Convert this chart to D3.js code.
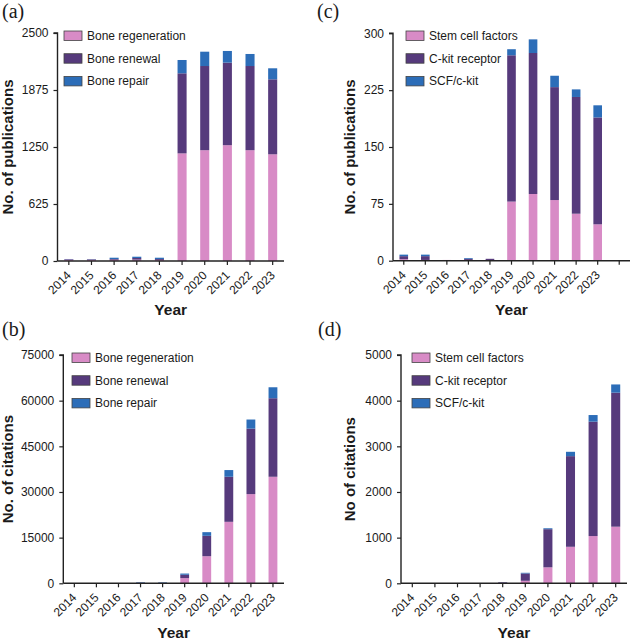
<!DOCTYPE html>
<html>
<head>
<meta charset="utf-8">
<script src="https://cdn.jsdelivr.net/npm/d3@7"></script>
<style>
  html, body { margin: 0; padding: 0; background: #fff; }
  svg { display: block; }
  text { font-family: "Liberation Sans", Arial, sans-serif; fill: #1a1a1a; }
</style>
</head>
<body>
<svg id="chart" width="630" height="642"></svg>
<script>
// ---------- DATA ----------
const years = ["2014","2015","2016","2017","2018","2019","2020","2021","2022","2023"];

const boneSeries = ["Bone regeneration", "Bone renewal", "Bone repair"];
const scfSeries  = ["Stem cell factors", "C-kit receptor", "SCF/c-kit"];

// (a) publications – bone
const pubBoneRegeneration = [14, 12, 14, 15, 12, 1180, 1215, 1270, 1215, 1170];
const pubBoneRenewal      = [6, 6, 8, 18, 10, 878, 923, 905, 923, 822];
const pubBoneRepair       = [2, 2, 14, 14, 14, 146, 157, 128, 132, 121];

// (b) citations – bone
const citBoneRegeneration = [0, 0, 0, 120, 100, 1700, 8900, 20200, 29300, 35000];
const citBoneRenewal      = [0, 0, 0, 80, 60, 1100, 6700, 14800, 21500, 25800];
const citBoneRepair       = [0, 0, 0, 150, 150, 400, 1200, 2200, 3000, 3600];

// (c) publications – SCF / c-kit
const pubStemCell = [2, 1, 1, 1, 0.5, 78, 88, 80, 62, 48];
const pubCkit     = [4, 5, 0, 1.5, 2, 193, 186, 149, 154, 141];
const pubScfCkit  = [2, 2, 0, 1, 0, 8, 18, 15, 10, 16];

// (d) citations – SCF / c-kit
const citStemCell = [0, 0, 0, 0, 5, 55, 350, 800, 1035, 1240];
const citCkit     = [0, 0, 0, 0, 15, 160, 835, 1985, 2505, 2935];
const citScfCkit  = [0, 0, 0, 0, 2, 15, 20, 95, 145, 180];

// tick labels
const ticksA = [0, 625, 1250, 1875, 2500];
const ticksB = [0, 15000, 30000, 45000, 60000, 75000];
const ticksC = [0, 75, 150, 225, 300];
const ticksD = [0, 1000, 2000, 3000, 4000, 5000];

const seriesColors = ["#d88bc6", "#563a7c", "#2c6db8"];

// ---------- DRAW ----------
const svg = d3.select("#chart");

function drawPanel(cfg) {
  const g = svg.append("g");
  const domain = cfg.extraSlot ? years.concat(["__blank"]) : years;
  const x = d3.scaleBand().domain(domain)
    .range([cfg.left, cfg.right]).paddingInner(0.6).paddingOuter(0.3);
  const y = d3.scaleLinear().domain([0, cfg.ticks[cfg.ticks.length - 1]])
    .range([cfg.bottom, cfg.top]);

  const rows = years.map((yr, i) => {
    const r = { year: yr };
    cfg.series.forEach((s, k) => r[s] = cfg.values[k][i]);
    return r;
  });
  const stacked = d3.stack().keys(cfg.series)(rows);

  stacked.forEach((layer, k) => {
    g.append("g").attr("fill", seriesColors[k])
      .selectAll("rect").data(layer).join("rect")
      .attr("x", d => x(d.data.year))
      .attr("width", x.bandwidth())
      .attr("y", d => y(d[1]))
      .attr("height", d => Math.max(0, y(d[0]) - y(d[1])));
  });

  // y axis
  const yAxis = d3.axisLeft(y).tickValues(cfg.ticks).tickSize(4).tickPadding(5)
    .tickFormat(d3.format("d"));
  const ya = g.append("g").attr("transform", `translate(${cfg.left},0)`).call(yAxis);
  ya.select(".domain").attr("stroke", "#222").attr("stroke-width", 1.4)
    .attr("d", `M-4,${cfg.top}H0V${cfg.bottom}`);
  ya.selectAll(".tick line").attr("stroke", "#222").attr("stroke-width", 1.2);
  ya.selectAll(".tick text").style("font-size", "12px")
    .style("font-family", '"Liberation Sans", Arial, sans-serif').attr("fill", "#1a1a1a");

  // x axis
  const xAxis = d3.axisBottom(x).tickSize(4).tickSizeOuter(0)
    .tickFormat(d => d === "__blank" ? "" : d);
  const xa = g.append("g").attr("transform", `translate(0,${cfg.bottom})`).call(xAxis);
  xa.select(".domain").attr("stroke", "#222").attr("stroke-width", 1.4)
    .attr("d", `M${cfg.left},0H${cfg.right}`);
  xa.selectAll(".tick line").attr("stroke", "#222").attr("stroke-width", 1.2);
  xa.selectAll(".tick text")
    .style("font-size", "12px")
    .style("font-family", '"Liberation Sans", Arial, sans-serif')
    .attr("fill", "#1a1a1a")
    .attr("text-anchor", "end")
    .attr("dy", null)
    .attr("x", 3).attr("y", 15)
    .attr("transform", "rotate(-45 3 15)");

  // y title
  g.append("text")
    .attr("transform", `translate(${cfg.yTitleX},${(cfg.top + cfg.bottom) / 2}) rotate(-90)`)
    .attr("text-anchor", "middle")
    .style("font-size", "15px").style("font-weight", "bold")
    .text(cfg.yTitle);

  // x title
  g.append("text")
    .attr("x", (cfg.left + cfg.right) / 2 + (cfg.xTitleShift || 0))
    .attr("y", cfg.xTitleY)
    .attr("text-anchor", "middle")
    .style("font-size", "15.5px").style("font-weight", "bold")
    .text("Year");

  // panel letter
  g.append("text")
    .attr("x", cfg.labelX).attr("y", cfg.labelY)
    .style("font-family", '"Liberation Serif", "Times New Roman", serif')
    .style("font-size", "20px")
    .text(cfg.label);

  // legend
  const leg = g.append("g");
  cfg.series.forEach((s, k) => {
    const yy = cfg.legY + k * 22.7;
    leg.append("rect")
      .attr("x", cfg.legX).attr("y", yy)
      .attr("width", 18).attr("height", 9.5)
      .attr("fill", seriesColors[k])
      .attr("stroke", "#444").attr("stroke-width", 0.8);
    leg.append("text")
      .attr("x", cfg.legX + 23).attr("y", yy + 9)
      .style("font-size", "12px")
      .text(s);
  });
}

drawPanel({
  label: "(a)", labelX: 2, labelY: 18,
  left: 57.5, right: 284, top: 33, bottom: 261,
  ticks: ticksA, series: boneSeries,
  values: [pubBoneRegeneration, pubBoneRenewal, pubBoneRepair],
  yTitle: "No. of publications", yTitleX: 13, xTitleY: 315,
  legX: 64, legY: 31
});

drawPanel({
  label: "(c)", labelX: 317, labelY: 18,
  left: 393, right: 630, top: 33.3, bottom: 260.7, extraSlot: true,
  ticks: ticksC, series: scfSeries,
  values: [pubStemCell, pubCkit, pubScfCkit],
  yTitle: "No. of publications", yTitleX: 355, xTitleY: 315, xTitleShift: 0,
  legX: 406, legY: 31
});

drawPanel({
  label: "(b)", labelX: 2, labelY: 336,
  left: 63.3, right: 284, top: 355, bottom: 583.3,
  ticks: ticksB, series: boneSeries,
  values: [citBoneRegeneration, citBoneRenewal, citBoneRepair],
  yTitle: "No. of citations", yTitleX: 13, xTitleY: 638,
  legX: 72, legY: 353
});

drawPanel({
  label: "(d)", labelX: 318, labelY: 336,
  left: 401, right: 627, top: 355, bottom: 583.3,
  ticks: ticksD, series: scfSeries,
  values: [citStemCell, citCkit, citScfCkit],
  yTitle: "No of citations", yTitleX: 355, xTitleY: 638,
  legX: 412, legY: 353
});
</script>
</body>
</html>
